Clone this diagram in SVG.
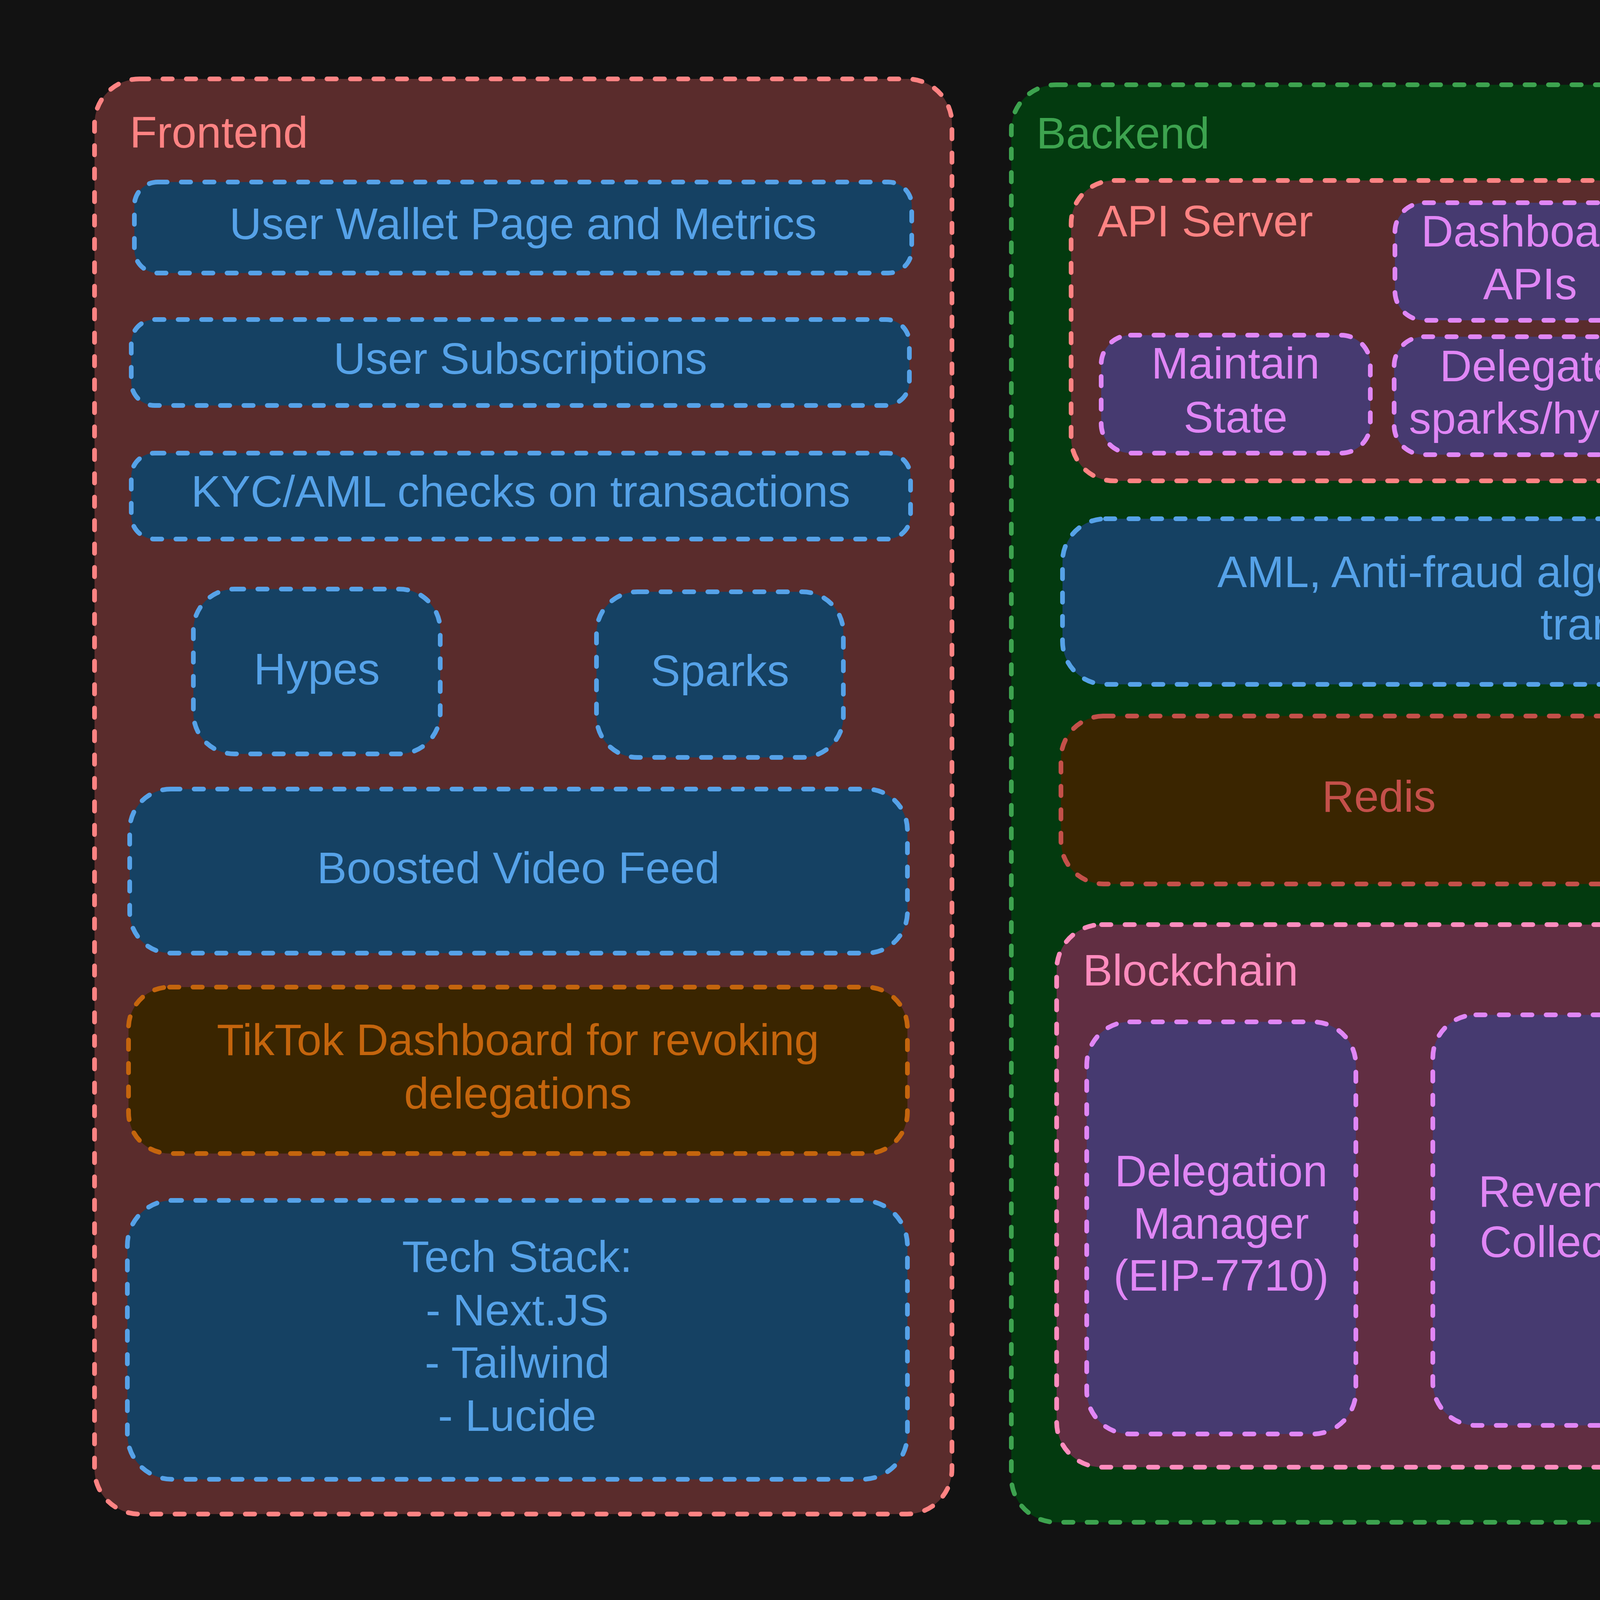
<svg xmlns="http://www.w3.org/2000/svg" width="6587" height="4170" viewBox="0 0 6587 4170">
<style>
rect{stroke-width:12;stroke-dasharray:24 36;stroke-linecap:round;stroke-linejoin:round}
text{font-family:"Liberation Sans",Arial,sans-serif;font-size:114px}
.c{text-anchor:middle}
.fe{fill:#5a2c2c;stroke:#ff8383}
.bl{fill:#154163;stroke:#56a2e8}
.or{fill:#3a2500;stroke:#c4650d}
.be{fill:#033a0f;stroke:#3da34f}
.pu{fill:#463a70;stroke:#e086f5}
.re{fill:#3a2500;stroke:#c4504a}
.mo{fill:#00402e;stroke:#30a67d}
.bc{fill:#612e42;stroke:#ff8cbe}
.tfe{fill:#ff8383}
.tbl{fill:#56a2e8}
.tor{fill:#c4650d}
.tbe{fill:#3da34f}
.tpu{fill:#e086f5}
.tre{fill:#c4504a}
.tmo{fill:#30a67d}
.tbc{fill:#ff8cbe}
</style>
<rect x="0" y="0" width="6587" height="4170" style="fill:#121212;stroke:none"/>

<g id="frontend">
<rect class="fe" x="242" y="202" width="2195" height="3674" rx="115"/>
<text class="tfe" x="332" y="378">Frontend</text>
</g>
<g id="user-wallet">
<rect class="bl" x="344" y="466" width="1990" height="233" rx="60"/>
<text class="tbl c" x="1339" y="612">User Wallet Page and Metrics</text>
</g>
<g id="user-subscriptions">
<rect class="bl" x="336" y="818" width="1992" height="220" rx="60"/>
<text class="tbl c" x="1332" y="957">User Subscriptions</text>
</g>
<g id="kyc-aml">
<rect class="bl" x="336" y="1160" width="1995" height="220" rx="60"/>
<text class="tbl c" x="1333" y="1297">KYC/AML checks on transactions</text>
</g>
<g id="hypes">
<rect class="bl" x="495" y="1508" width="632" height="422" rx="105"/>
<text class="tbl c" x="811" y="1752">Hypes</text>
</g>
<g id="sparks">
<rect class="bl" x="1527" y="1515" width="632" height="424" rx="105"/>
<text class="tbl c" x="1843" y="1756">Sparks</text>
</g>
<g id="boosted-video-feed">
<rect class="bl" x="332" y="2020" width="1991" height="420" rx="105"/>
<text class="tbl c" x="1327" y="2261">Boosted Video Feed</text>
</g>
<g id="tiktok-dashboard">
<rect class="or" x="329" y="2527" width="1994" height="426" rx="105"/>
<text class="tor c" x="1326" y="2701">TikTok Dashboard for revoking</text>
<text class="tor c" x="1326" y="2838">delegations</text>
</g>
<g id="tech-stack">
<rect class="bl" x="326" y="3073" width="1997" height="714" rx="115"/>
<text class="tbl c" x="1324" y="3256">Tech Stack:</text>
<text class="tbl c" x="1324" y="3393">- Next.JS</text>
<text class="tbl c" x="1324" y="3527">- Tailwind</text>
<text class="tbl c" x="1324" y="3663">- Lucide</text>
</g>

<g id="backend">
<rect class="be" x="2589" y="217" width="3806" height="3680" rx="115"/>
<text class="tbe" x="2653" y="380">Backend</text>
</g>
<g id="api-server">
<rect class="fe" x="2742" y="462" width="1605" height="769" rx="110"/>
<text class="tfe" x="2810" y="605">API Server</text>
</g>
<g id="dashboard-apis">
<rect class="pu" x="3571" y="519" width="692" height="301" rx="75"/>
<text class="tpu c" x="3917" y="631">Dashboard</text>
<text class="tpu c" x="3917" y="766">APIs</text>
</g>
<g id="maintain-state">
<rect class="pu" x="2819" y="858" width="689" height="302" rx="75"/>
<text class="tpu c" x="3163" y="969">Maintain</text>
<text class="tpu c" x="3163" y="1107">State</text>
</g>
<g id="delegate">
<rect class="pu" x="3569" y="862" width="691" height="302" rx="75"/>
<text class="tpu c" x="3914" y="976">Delegate</text>
<text class="tpu c" x="3914" y="1110">sparks/hype</text>
</g>
<g id="job-server">
<rect class="fe" x="4633" y="439" width="1609" height="770" rx="110"/>
<text class="tfe" x="4691" y="574">Job Server</text>
</g>
<g id="long-running">
<rect class="pu" x="4669" y="725" width="688" height="434" rx="95"/>
<text class="tpu c" x="5013" y="835" style="font-size:108px">Long-running</text>
<text class="tpu c" x="5013" y="973">AML/Anti-</text>
<text class="tpu c" x="5013" y="1105">fraud</text>
</g>
<g id="trigger-epoch">
<rect class="pu" x="5478" y="726" width="689" height="435" rx="95"/>
<text class="tpu c" x="5822" y="838">Trigger</text>
<text class="tpu c" x="5822" y="973">Contract</text>
<text class="tpu c" x="5822" y="1105">Epoch</text>
</g>
<g id="aml-algorithms">
<rect class="bl" x="2720" y="1328" width="3529" height="424" rx="110"/>
<text class="tbl c" x="4485" y="1503">AML, Anti-fraud algorithms to check before settling the</text>
<text class="tbl c" x="4485" y="1637">transactions on-chain</text>
</g>
<g id="redis">
<rect class="re" x="2716" y="1833" width="1628" height="430" rx="110"/>
<text class="tre c" x="3530" y="2078">Redis</text>
</g>
<g id="mongodb">
<rect class="mo" x="4651" y="1817" width="1621" height="430" rx="110"/>
<text class="tmo c" x="5461" y="2062">MongoDB</text>
</g>
<g id="blockchain">
<rect class="bc" x="2705" y="2367" width="3592" height="1389" rx="115"/>
<text class="tbc" x="2772" y="2523">Blockchain</text>
</g>
<g id="delegation-manager">
<rect class="pu" x="2782" y="2616" width="689" height="1055" rx="110"/>
<text class="tpu c" x="3126" y="3037">Delegation</text>
<text class="tpu c" x="3126" y="3171">Manager</text>
<text class="tpu c" x="3126" y="3304">(EIP-7710)</text>
</g>
<g id="revenue-collector">
<rect class="pu" x="3668" y="2598" width="690" height="1051" rx="110"/>
<text class="tpu c" x="4013" y="3089">Revenue</text>
<text class="tpu c" x="4013" y="3218">Collector</text>
</g>
<g id="sparks-token">
<rect class="pu" x="4546" y="2597" width="689" height="1055" rx="110"/>
<text class="tpu c" x="4890" y="3084">Sparks</text>
<text class="tpu c" x="4890" y="3218">Token</text>
</g>
<g id="hype-token">
<rect class="pu" x="5481" y="2580" width="689" height="1050" rx="110"/>
<text class="tpu c" x="5825" y="2934">Hype</text>
<text class="tpu c" x="5825" y="3065">Token</text>
<text class="tpu c" x="5825" y="3199">(1 $SP</text>
<text class="tpu c" x="5825" y="3333">= 100 $HY)</text>
</g>
<g id="connectors"></g>
</svg>
